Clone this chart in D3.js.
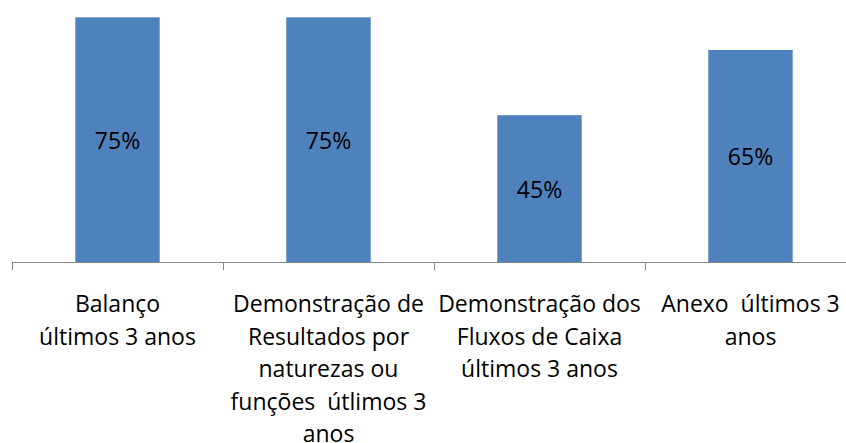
<!DOCTYPE html>
<html>
<head>
<meta charset="utf-8">
<script src="https://cdn.jsdelivr.net/npm/d3@7"></script>
<style>
  body { margin: 0; background: #fff; }
  text { font-family: "Open Sans", sans-serif; fill: #000; white-space: pre; }
</style>
</head>
<body>
<div id="chart"></div>
<script>
// data
var categories = ["Balanço", "Demonstração de Resultados", "Demonstração dos Fluxos", "Anexo"];
var values = [75, 75, 45, 65];
var valueLabels = ["75%", "75%", "45%", "65%"];
var tickLabels = [
  ["Balanço", "últimos 3 anos"],
  ["Demonstração de", "Resultados por", "naturezas ou", "funções  útlimos 3", "anos"],
  ["Demonstração dos", "Fluxos de Caixa", "últimos 3 anos"],
  ["Anexo  últimos 3", "anos"]
];

var W = 846, H = 443;

var svg = d3.select("#chart")
  .append("svg")
  .attr("width", W)
  .attr("height", H);

// scales
var x = d3.scaleBand()
  .domain(categories)
  .range([12, 856])
  .paddingInner(0.6)
  .paddingOuter(0.3);

var y = d3.scaleLinear()
  .domain([0, 80])
  .range([262, 1]);

// bars
svg.selectAll("rect.bar")
  .data(values)
  .enter().append("rect")
  .attr("class", "bar")
  .attr("x", (d, i) => x(categories[i]))
  .attr("y", d => y(d))
  .attr("width", x.bandwidth())
  .attr("height", d => y(0) - y(d))
  .attr("fill", "#4f81bd");

// value labels, centered in bars
svg.selectAll("text.val")
  .data(values)
  .enter().append("text")
  .attr("class", "val")
  .attr("x", (d, i) => x(categories[i]) + x.bandwidth() / 2)
  .attr("y", d => (y(d) + y(0)) / 2 + 9)
  .attr("text-anchor", "middle")
  .style("font-size", "23px")
  .text((d, i) => valueLabels[i]);

// category axis with ticks between categories
var x0 = x.range()[0];
svg.append("line")
  .attr("x1", x0).attr("x2", x.range()[1])
  .attr("y1", y(0) + 0.5).attr("y2", y(0) + 0.5)
  .attr("stroke", "#868686").attr("stroke-width", 1);

svg.selectAll("line.tick")
  .data(d3.range(categories.length + 1))
  .enter().append("line")
  .attr("class", "tick")
  .attr("x1", i => x0 + i * x.step() + 0.5)
  .attr("x2", i => x0 + i * x.step() + 0.5)
  .attr("y1", y(0)).attr("y2", y(0) + 8)
  .attr("stroke", "#868686").attr("stroke-width", 1);

// multi-line category labels
var lab = svg.selectAll("text.cat")
  .data(tickLabels)
  .enter().append("text")
  .attr("class", "cat")
  .attr("text-anchor", "middle")
  .style("font-size", "23px");

lab.selectAll("tspan")
  .data((d, i) => d.map(s => ({s: s, i: i})))
  .enter().append("tspan")
  .attr("x", d => x(categories[d.i]) + x.bandwidth() / 2)
  .attr("y", (d, j) => 312 + j * 32.6)
  .text(d => d.s);
</script>
</body>
</html>
